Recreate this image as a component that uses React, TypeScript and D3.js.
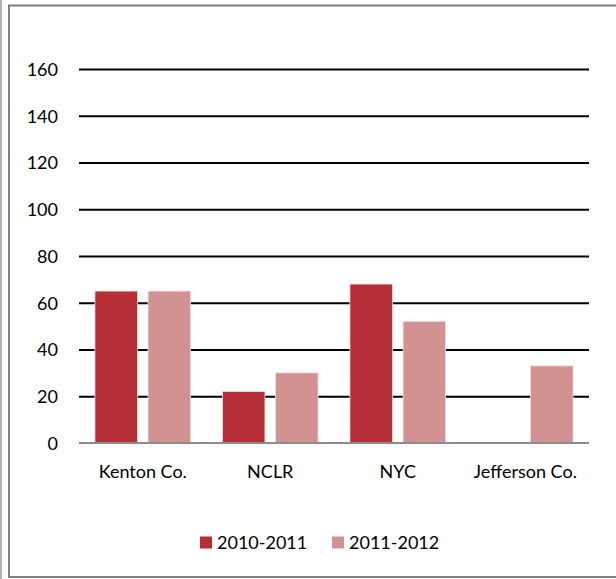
import * as d3 from 'd3'
import { useEffect, useRef } from 'react'

const categories = ['Kenton Co.', 'NCLR', 'NYC', 'Jefferson Co.']
const seriesNames = ['2010-2011', '2011-2012']
const values2010 = [65, 22, 68, 0]
const values2011 = [65, 30, 52, 33]
const yTicks = [0, 20, 40, 60, 80, 100, 120, 140, 160]
const colors = ['#B52D35', '#D29292']

const App = () => {
  const container = useRef<HTMLDivElement>(null)

  useEffect(() => {
    if (!container.current) return
    const width = 616
    const height = 579
    const font = 'Lato, Calibri, sans-serif'

    d3.select(container.current).select('svg').remove()
    const svg = d3
      .select(container.current)
      .append('svg')
      .attr('width', width)
      .attr('height', height)
      .style('display', 'block')

    svg.append('rect').attr('width', width).attr('height', height).attr('fill', '#fff')

    // outer frame lines
    svg.append('line').attr('x1', 1).attr('x2', 1).attr('y1', 0).attr('y2', height)
      .attr('stroke', '#9a9a9a').attr('stroke-width', 1.5)
    svg.append('rect')
      .attr('x', 9).attr('y', 5.5).attr('width', 620).attr('height', 571.5)
      .attr('fill', 'none').attr('stroke', '#7f7f7f').attr('stroke-width', 2)

    const x0 = d3.scaleBand<string>().domain(categories).range([79, 589])
    const x1 = d3.scaleBand<string>().domain(seriesNames).range([0, x0.bandwidth()])
      .paddingInner(0.2).paddingOuter(0.3)
    const y = d3.scaleLinear().domain([0, 160]).range([443, 69])

    // gridlines + y labels
    svg.append('g')
      .call(d3.axisLeft(y).tickValues(yTicks).tickSize(0).tickPadding(21))
      .attr('transform', 'translate(79,0)')
      .call((g) => g.select('.domain').remove())
      .call((g) => g.selectAll('.tick text')
        .attr('font-family', font).attr('font-size', 18).attr('fill', '#000').attr('dy', '0.36em'))
      .call((g) => g.selectAll('.tick')
        .filter((d) => d !== 0)
        .append('line').attr('x1', 0).attr('x2', 510)
        .attr('stroke', '#000').attr('stroke-width', 2))

    const series = [values2010, values2011]
    series.forEach((vals, si) => {
      svg.append('g')
        .selectAll('rect')
        .data(vals.map((v, i) => ({ v, c: categories[i] })).filter((d) => d.v > 0))
        .enter()
        .append('rect')
        .attr('x', (d) => (x0(d.c) ?? 0) + (x1(seriesNames[si]) ?? 0))
        .attr('y', (d) => y(d.v))
        .attr('width', x1.bandwidth())
        .attr('height', (d) => y(0) - y(d.v))
        .attr('fill', colors[si])
        .attr('stroke', '#f3dede')
        .attr('stroke-width', 0.8)
    })

    // zero axis
    svg.append('line').attr('x1', 79).attr('x2', 589).attr('y1', y(0)).attr('y2', y(0))
      .attr('stroke', '#8c8c8c').attr('stroke-width', 2)

    // category labels
    svg.append('g')
      .attr('transform', `translate(0,${y(0)})`)
      .call(d3.axisBottom(x0).tickSize(0).tickPadding(22))
      .call((g) => g.select('.domain').remove())
      .call((g) => g.selectAll('.tick text')
        .attr('font-family', font).attr('font-size', 18).attr('fill', '#000'))

    // legend
    const legendX = [200, 332]
    const legend = svg.append('g')
    seriesNames.forEach((name, i) => {
      legend.append('rect').attr('x', legendX[i]).attr('y', 536.5)
        .attr('width', 12).attr('height', 12).attr('fill', colors[i])
      legend.append('text').attr('x', legendX[i] + 17).attr('y', 549)
        .attr('font-family', font).attr('font-size', 18).attr('fill', '#000')
        .text(name)
    })
  }, [])

  return (
    <div style={{ position: 'absolute', left: 0, top: 0 }}>
      <div ref={container} />
    </div>
  )
}

export default App
